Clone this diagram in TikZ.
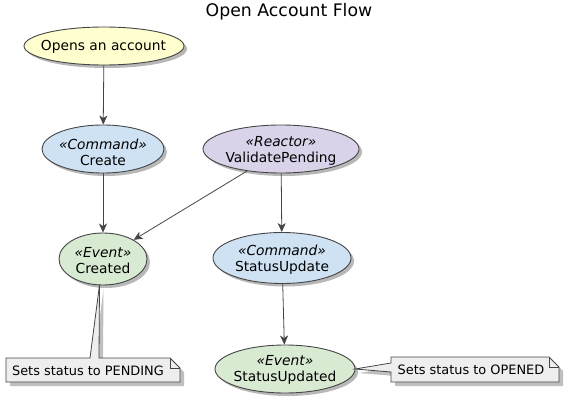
\documentclass[tikz,border=0pt]{standalone}
\usepackage{fontspec}
\setmainfont{DejaVu Sans}[ItalicFont={DejaVu Sans Oblique}]
\usetikzlibrary{shapes.geometric,arrows.meta,shadows}
\definecolor{lineC}{HTML}{454545}
\definecolor{ycol}{HTML}{FEFECE}
\definecolor{ccol}{HTML}{CFE2F3}
\definecolor{rcol}{HTML}{D9D2E9}
\definecolor{ecol}{HTML}{D9EAD3}
\definecolor{ncol}{HTML}{EEEEEE}
\begin{document}
\begin{tikzpicture}[x=1pt,y=-1pt,
  uc/.style={ellipse, draw=lineC, line width=0.9pt, inner sep=0pt,
    drop shadow={shadow xshift=3pt,shadow yshift=-3pt,fill=black,opacity=0.28}},
  uctext/.style={inner sep=0pt, align=center, font=\fontsize{13.8}{16}\selectfont},
  flow/.style={draw=lineC, line width=0.8pt, -{Stealth[length=9pt,width=8pt,inset=2.5pt]}},
  notetext/.style={inner sep=0pt, font=\fontsize{12.9}{15}\selectfont},
  notebox/.style={fill=ncol, draw=lineC, line width=0.8pt, line join=miter},
  noteshadow/.style={fill=black, opacity=0.25}
]
\useasboundingbox (0,0) rectangle (570,404);

\node (title) at (289,12) {\fontsize{17.3}{20}\selectfont Open Account Flow};

\node[uc, fill=ycol, minimum width=160pt, minimum height=38pt] (open) at (104,46) {};
\node[uctext] (openT) at (103.5,47) {Opens an account};

\node[uc, fill=ccol, minimum width=122pt, minimum height=48pt] (create) at (103,149) {};
\node[uctext] (createT) at (103,152) {\textit{«Command»}\\Create};

\node[uc, fill=rcol, minimum width=156pt, minimum height=48pt] (reactor) at (281,149) {};
\node[uctext] (reactorT) at (281,151) {\textit{«Reactor»}\\ValidatePending};

\node[uc, fill=ecol, minimum width=88pt, minimum height=52pt] (created) at (103,259) {};
\node[uctext] (createdT) at (103,261) {\textit{«Event»}\\Created};

\node[uc, fill=ccol, minimum width=138pt, minimum height=51pt] (supdate) at (282,258) {};
\node[uctext] (supdateT) at (282,260) {\textit{«Command»}\\StatusUpdate};

\node[uc, fill=ecol, minimum width=140pt, minimum height=48pt] (supdated) at (285,369) {};
\node[uctext] (supdatedT) at (285,370) {\textit{«Event»}\\StatusUpdated};

\draw[flow] (open) -- (create);
\draw[flow] (create) -- (created);
\draw[flow] (reactor.213) -- (created.32);
\draw[flow] (reactor) -- (supdate);
\draw[flow] (supdate) -- (supdated);

% note 1 (PENDING)
\begin{scope}[shift={(4,4)}]
  \fill[noteshadow] (6,358) -- (90,358) -- (99.5,285) -- (99,358) -- (170,358) -- (180,368) -- (180,382) -- (6,382) -- cycle;
\end{scope}
\path[notebox] (6,358) -- (90,358) -- (99.5,285) -- (99,358) -- (170,358) -- (180,368) -- (180,382) -- (6,382) -- cycle;
\draw[draw=lineC, line width=0.8pt] (170,358) -- (170,368) -- (180,368);
\node[notetext] (note1) at (88,370.5) {Sets status to PENDING};

% note 2 (OPENED)
\begin{scope}[shift={(4,4)}]
  \fill[noteshadow] (391,357) -- (549,357) -- (559,367) -- (559,382) -- (391,382) -- (391,372) -- (355,369) -- (391,363) -- cycle;
\end{scope}
\path[notebox] (391,357) -- (549,357) -- (559,367) -- (559,382) -- (391,382) -- (391,372) -- (355,369) -- (391,363) -- cycle;
\draw[draw=lineC, line width=0.8pt] (549,357) -- (549,367) -- (559,367);
\node[notetext] (note2) at (471,370) {Sets status to OPENED};
\end{tikzpicture}
\end{document}
